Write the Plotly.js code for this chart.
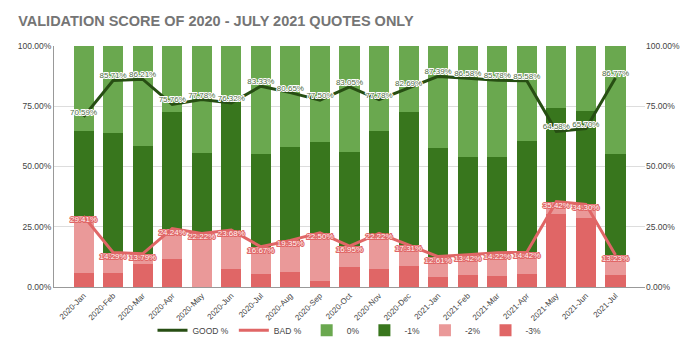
<!DOCTYPE html>
<html><head><meta charset="utf-8">
<script src="https://cdn.plot.ly/plotly-3.0.1.min.js"></script>
<style>html,body{margin:0;padding:0;background:#fff}#chart{width:700px;height:357px}
.lbl-good{paint-order:stroke;stroke:#ffffff;stroke-width:2px;stroke-linejoin:round}
.lbl-bad{paint-order:stroke;stroke:#e06666;stroke-width:2px;stroke-linejoin:round}
</style>
</head><body><div id="chart"></div>
<script>
const months = ["2020-Jan","2020-Feb","2020-Mar","2020-Apr","2020-May","2020-Jun","2020-Jul","2020-Aug","2020-Sep","2020-Oct","2020-Nov","2020-Dec","2021-Jan","2021-Feb","2021-Mar","2021-Apr","2021-May","2021-Jun","2021-Jul"];
const goodPct = [70.59,85.71,86.21,75.76,77.78,76.32,83.33,80.65,77.50,83.05,77.78,82.69,87.39,86.58,85.78,85.58,64.58,65.70,86.77];
const badPct  = [29.41,14.29,13.79,24.24,22.22,23.68,16.67,19.35,22.50,16.95,22.22,17.31,12.61,13.42,14.22,14.42,35.42,34.30,13.23];
const zero    = [35.3,36.0,41.4,27.3,44.4,21.1,44.8,41.9,40.0,44.1,35.4,27.5,42.5,46.0,46.0,39.3,25.7,27.1,44.8];
const minus1  = [35.3,49.7,44.8,48.5,33.3,55.3,38.5,38.7,37.5,39.0,42.4,55.2,44.9,40.6,39.8,46.3,38.9,38.6,42.0];
const minus2  = [23.5,8.3,4.1,12.6,22.22,15.8,11.3,12.9,20.0,8.5,14.6,8.5,8.4,8.5,9.8,8.8,5.1,5.8,8.3];
const minus3  = [5.9,6.0,9.7,11.6,0,7.6,5.4,6.3,2.5,8.5,7.6,8.8,4.2,4.9,4.4,5.6,30.3,28.5,4.9];

const fmt = a => a.map(v => v.toFixed(2) + '%');
const bar = (y, name, color, rank) => ({type:'bar', x: months, y: y, name: name, marker:{color: color}, legendrank: rank, hoverinfo:'skip'});
const data = [
  bar(minus3, '-3%', '#e06666', 6),
  bar(minus2, '-2%', '#ea9999', 5),
  bar(minus1, '-1%', '#38761d', 4),
  bar(zero, '0%', '#6aa84f', 3),
  {type:'scatter', mode:'lines+text', x: months, y: goodPct, yaxis:'y2', name:'GOOD %', legendrank:1,
   line:{color:'#274e13', width:3}, text: fmt(goodPct), textposition:'top center', cliponaxis:false,
   textfont:{family:'Liberation Sans, Arial', size:8, color:'#4e6b43'}},
  {type:'scatter', mode:'lines+text', x: months, y: badPct, yaxis:'y2', name:'BAD %', legendrank:2,
   line:{color:'#e06666', width:3}, text: fmt(badPct), textposition:'bottom center', cliponaxis:false,
   textfont:{family:'Liberation Sans, Arial', size:8, color:'#fff4f4'}}
];
const tickvals = [0,25,50,75,100];
const ticktext = ['0.00%','25.00%','50.00%','75.00%','100.00%'];
const layout = {
  width:700, height:357,
  margin:{l:54, r:55, t:46, b:70, autoexpand:false},
  paper_bgcolor:'#fff', plot_bgcolor:'#fff',
  font:{family:'Liberation Sans, Arial', size:9, color:'#444'},
  title:{text:'<b>VALIDATION SCORE OF 2020 - JULY 2021 QUOTES ONLY</b>', x:0.026, xanchor:'left', yref:'container', y:0.94, yanchor:'middle',
         font:{family:'Liberation Sans, Arial', size:14.5, color:'#757575'}},
  barmode:'stack', bargap:0.32,
  xaxis:{tickangle:-45, tickfont:{size:8, color:'#444'}, showgrid:false, showline:true, linecolor:'#999', linewidth:1, ticks:'', automargin:false},
  yaxis:{range:[0,100], tickvals:tickvals, ticktext:ticktext, gridcolor:'#ddd', showline:true, linecolor:'#999', zeroline:false, tickfont:{size:8.5, color:'#444'}, automargin:false},
  yaxis2:{range:[0,100], tickvals:tickvals, ticktext:ticktext, overlaying:'y', side:'right', showgrid:false, zeroline:false, tickfont:{size:8.5, color:'#444'}, automargin:false},
  legend:{orientation:'h', x:0.5, xref:'paper', xanchor:'center', yref:'container', y:0.075, yanchor:'middle', bgcolor:'rgba(0,0,0,0)',
          font:{size:8.5, color:'#444'}, traceorder:'normal', itemwidth:30},
  showlegend:true
};
function styleLabels(gd) {
  const traces = gd.querySelectorAll('.scatterlayer .trace');
  traces.forEach((t, i) => {
    const cls = i === 0 ? 'lbl-good' : 'lbl-bad';
    t.querySelectorAll('.textpoint text').forEach(el => el.classList.add(cls));
  });
}
Plotly.newPlot('chart', data, layout, {displayModeBar:false, staticPlot:true}).then(styleLabels);
</script></body></html>
